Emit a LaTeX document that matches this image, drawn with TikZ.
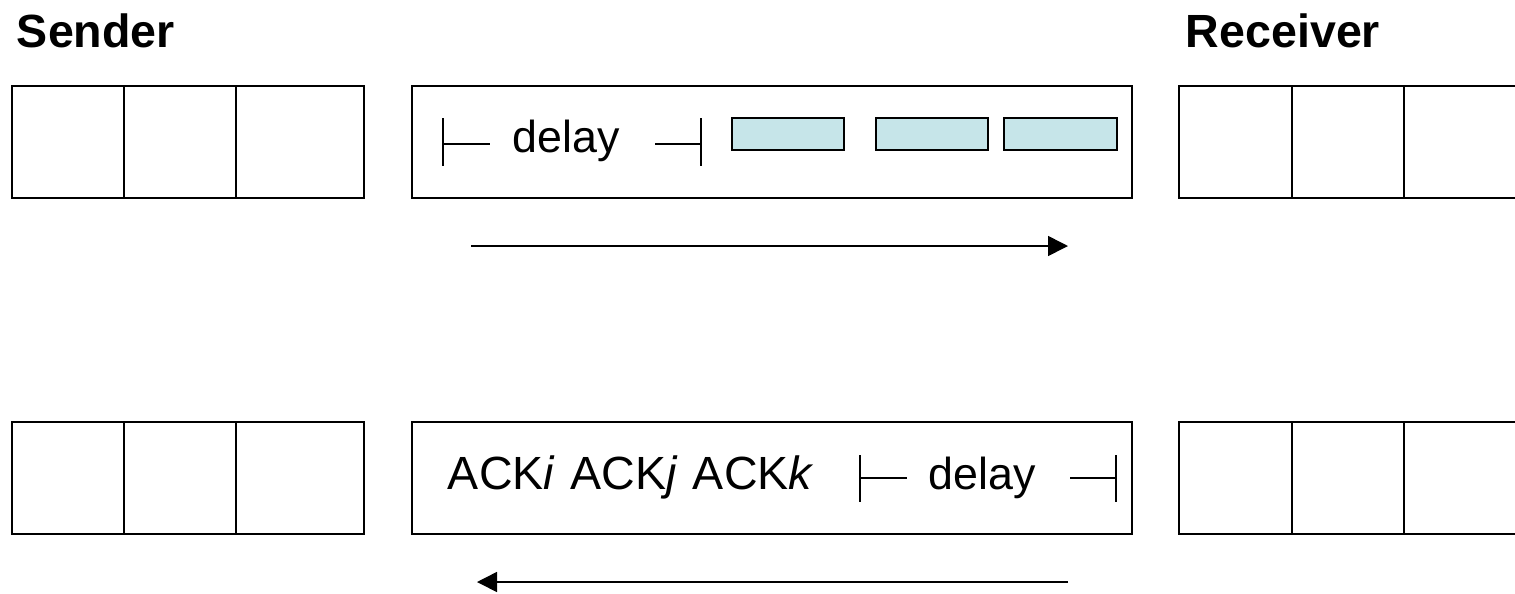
\documentclass[tikz,border=0pt]{standalone}
\usepackage{fontspec}
\setmainfont{Liberation Sans}
\usetikzlibrary{arrows.meta}
\definecolor{pktfill}{RGB}{198,229,233}

\begin{document}
\begin{tikzpicture}[x=0.02cm,y=-0.02cm,line width=1.1pt,
    title/.style={font=\fontsize{26.5}{30}\selectfont\bfseries,anchor=base west,inner sep=0pt},
    txt/.style={font=\fontsize{25.5}{30}\selectfont,anchor=base west,inner sep=0pt},
    flow/.style={line width=0.9pt,-{Triangle[length=0.4cm,width=0.4cm]}}]
        \useasboundingbox (0,0) rectangle (1515,593);

        \node[title] (sender) at (16,47) {Sender};
        \node[title] (receiver) at (1185,47) {Receiver};

        % buffers and channel, data on top, acks below
        \foreach \y in {86,422} {
            \draw (12,\y) rectangle ++(352,112);
            \foreach \x in {124,236}
                \draw (\x,\y) -- ++(0,112);
            \draw (412,\y) rectangle ++(720,112);
            \draw (1179,\y) rectangle ++(400,112);
            \foreach \x in {1292,1404}
                \draw (\x,\y) -- ++(0,112);
        }

        % data packets in flight
        \draw (443,118) -- (443,166) (443,144) -- (490,144);
        \node[txt] (delayfwd) at (512,152) {delay};
        \draw (655,144) -- (701,144) (701,118) -- (701,166);
        \draw[fill=pktfill] (732,118) rectangle (844,150);
        \draw[fill=pktfill] (876,118) rectangle (988,150);
        \draw[fill=pktfill] (1004,118) rectangle (1117,150);

        % acks on the way back
        \node[txt,font=\fontsize{26.5}{30}\selectfont] (acks) at (447,489)
            {ACK\textit{i}\hspace{0.33em}ACK\textit{j}\hspace{0.33em}ACK\textit{k}};
        \draw (860,455) -- (860,502) (860,478) -- (907,478);
        \node[txt] (delaybck) at (928,489) {delay};
        \draw (1070,478) -- (1116,478) (1116,455) -- (1116,502);

        \coordinate (fwd a) at (471,246);
        \coordinate (fwd b) at (1068,246);
        \coordinate (bck a) at (1068,582);
        \coordinate (bck b) at (477,582);
        \draw[flow] (fwd a) -- (fwd b);
        \draw[flow] (bck a) -- (bck b);
    \end{tikzpicture}
\end{document}
